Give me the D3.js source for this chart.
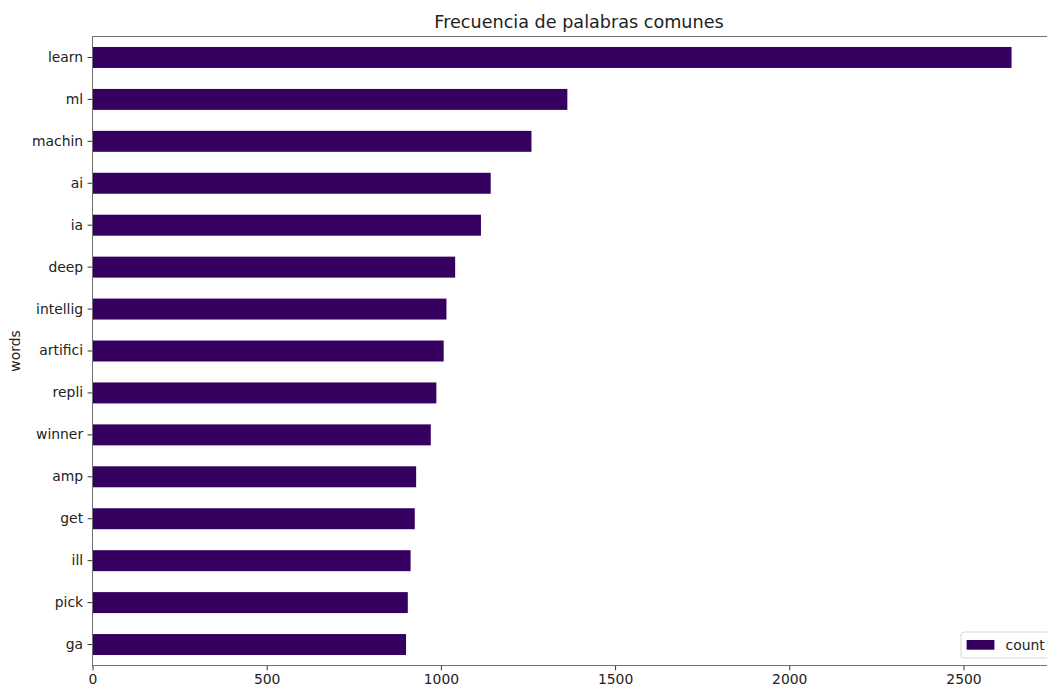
<!DOCTYPE html>
<html>
<head>
<meta charset="utf-8">
<script src="https://cdn.jsdelivr.net/npm/d3@7"></script>
<style>
  body { margin: 0; background: #fff; }
  svg { display: block; font-family: "DejaVu Sans", sans-serif; }
  .tick text { fill: #222; font-size: 13.9px; font-family: "DejaVu Sans", sans-serif; }
  .tick line { stroke: #333; }
</style>
</head>
<body>
<div id="chart"></div>
<script>
var words = ["learn", "ml", "machin", "ai", "ia", "deep", "intellig", "artifici",
    "repli", "winner", "amp", "get", "ill", "pick", "ga"];
var counts = [2638, 1363, 1260, 1143, 1115, 1041, 1016, 1008, 987, 971, 929, 925, 913, 905, 900];
var xTicks = [0, 500, 1000, 1500, 2000, 2500];
var seriesName = "count";
var title = "Frecuencia de palabras comunes";
var yTitle = "words";

var width = 1047, height = 689;
var margin = { top: 36.5, left: 92.5, bottom: 23.5 };
var plotRight = 1057.5; // the axes frame runs past the picture edge
var barColor = "#35005f";
var spineColor = "#707070";

var data = words.map(function (w, i) { return { word: w, count: counts[i] }; });

var x = d3.scaleLinear()
    .domain([0, d3.max(counts) * 1.05])
    .range([margin.left, plotRight]);

var y = d3.scaleBand()
    .domain(words)
    .range([margin.top, height - margin.bottom])
    .paddingInner(0.5)
    .paddingOuter(0.25);

var svg = d3.select('#chart').append('svg')
    .attr('width', width)
    .attr('height', height);

svg.append('g')
    .attr('class', 'bars')
    .selectAll('rect')
    .data(data)
    .enter().append('rect')
    .attr('x', x(0))
    .attr('y', function (d) { return y(d.word); })
    .attr('width', function (d) { return x(d.count) - x(0); })
    .attr('height', y.bandwidth())
    .attr('fill', barColor);

var bottom = height - margin.bottom;

svg.append('g')
    .attr('transform', 'translate(0,' + bottom + ')')
    .call(d3.axisBottom(x).tickValues(xTicks).tickFormat(d3.format('d'))
        .tickSize(4.9).tickPadding(4.2))
    .attr('font-family', null)
    .attr('font-size', null)
    .call(function (g) { g.select('.domain').remove(); });

svg.append('g')
    .attr('transform', 'translate(' + margin.left + ',0)')
    .call(d3.axisLeft(y).tickSize(4.9).tickPadding(4.5))
    .attr('font-family', null)
    .attr('font-size', null)
    .call(function (g) { g.select('.domain').remove(); });

// frame
svg.append('rect')
    .attr('x', margin.left)
    .attr('y', margin.top)
    .attr('width', plotRight - margin.left)
    .attr('height', bottom - margin.top)
    .attr('fill', 'none')
    .attr('stroke', spineColor)
    .attr('stroke-width', 1);

svg.append('text')
    .attr('x', 579)
    .attr('y', 28)
    .attr('text-anchor', 'middle')
    .attr('font-size', 17.6)
    .attr('fill', '#222')
    .text(title);

svg.append('text')
    .attr('transform', 'translate(20,' + ((margin.top + bottom) / 2) + ') rotate(-90)')
    .attr('text-anchor', 'middle')
    .attr('font-size', 13.9)
    .attr('fill', '#222')
    .text(yTitle);

// legend, lower right
var legend = svg.append('g')
    .attr('transform', 'translate(961,632)');

legend.append('rect')
    .attr('width', 89.5)
    .attr('height', 26)
    .attr('rx', 3)
    .attr('fill', 'rgba(255,255,255,0.8)')
    .attr('stroke', '#d6d6d6');

legend.append('rect')
    .attr('x', 5.6)
    .attr('y', 8)
    .attr('width', 27.8)
    .attr('height', 9.7)
    .attr('fill', barColor);

legend.append('text')
    .attr('x', 44.5)
    .attr('y', 18)
    .attr('font-size', 13.9)
    .attr('fill', '#222')
    .text(seriesName);
</script>
</body>
</html>
